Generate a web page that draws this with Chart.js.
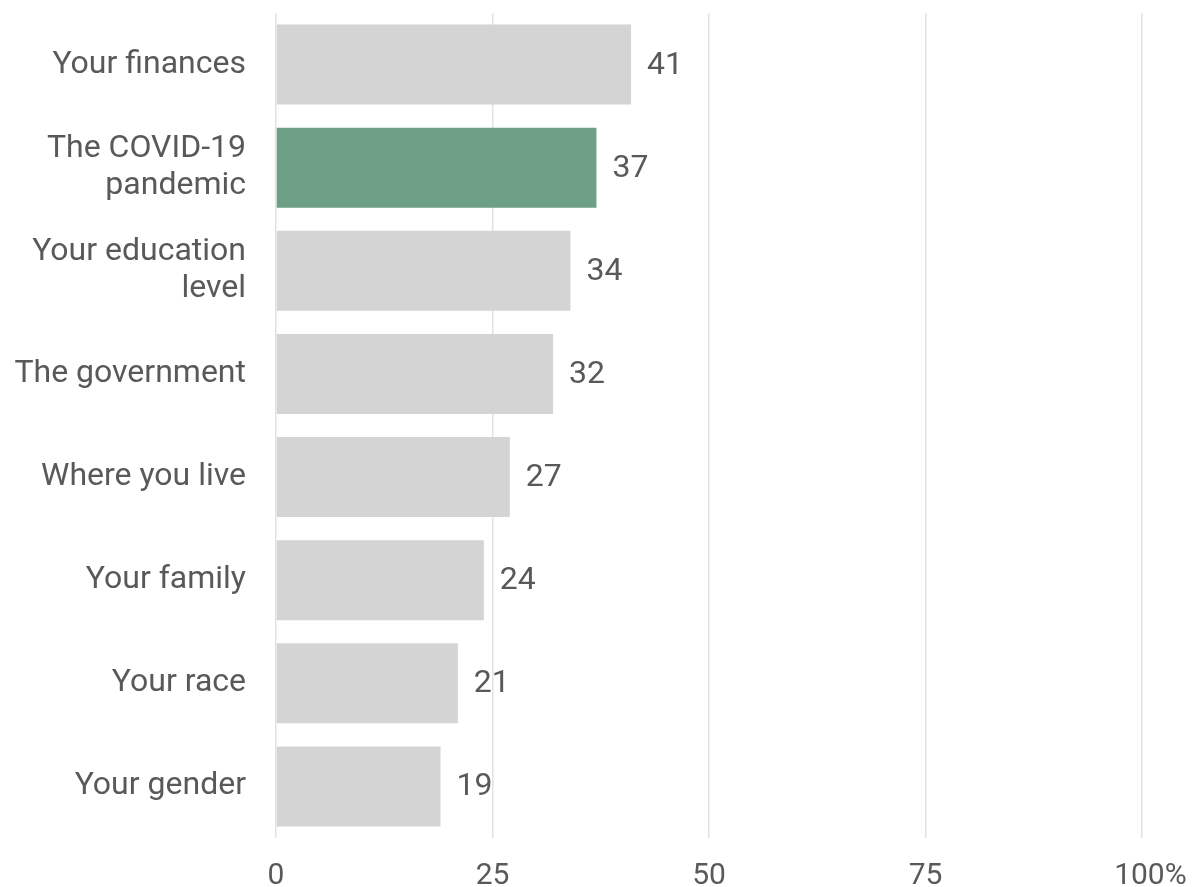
<!DOCTYPE html>
<html>
<head>
<meta charset="utf-8">
<script src="https://cdn.jsdelivr.net/npm/chart.js@4.4.0/dist/chart.umd.min.js"></script>
<style>
    html, body { margin: 0; padding: 0; background: #ffffff; }
    #wrap { width: 1193px; height: 887px; position: relative; }
</style>
</head>
<body>
<div id="wrap"><canvas id="barChart"></canvas></div>
<script>
// Datos del gráfico
const categories = [
    'Your finances',
    ['The COVID-19', 'pandemic'],
    ['Your education', 'level'],
    'The government',
    'Where you live',
    'Your family',
    'Your race',
    'Your gender'
];
const values = [41, 37, 34, 32, 27, 24, 21, 19];
const highlightIndex = 1;
const xTicks = [0, 25, 50, 75, 100];

// Colores
const greyBar = '#d4d4d4';
const greenBar = '#6d9f86';
const textColor = '#595959';
const gridColor = '#e2e2e2';

const barColors = values.map((v, i) => i === highlightIndex ? greenBar : greyBar);

// Etiquetas de valor al final de cada barra
const valueLabels = {
    id: 'valueLabels',
    afterDatasetsDraw(chart) {
        const ctx = chart.ctx;
        const meta = chart.getDatasetMeta(0);
        ctx.save();
        ctx.font = '32px Roboto';
        ctx.fillStyle = textColor;
        ctx.textAlign = 'left';
        ctx.textBaseline = 'middle';
        meta.data.forEach((bar, i) => {
            ctx.fillText(String(values[i]), bar.x + 16, bar.y + 1);
        });
        ctx.restore();
    }
};

new Chart(document.getElementById('barChart'), {
    type: 'bar',
    data: {
        labels: categories,
        datasets: [{
            data: values,
            backgroundColor: barColors,
            borderWidth: 0,
            barPercentage: 0.775,
            categoryPercentage: 1
        }]
    },
    options: {
        indexAxis: 'y',
        responsive: true,
        maintainAspectRatio: false,
        animation: false,
        layout: { padding: { top: 13, right: 51, bottom: 0, left: 0 } },
        plugins: {
            legend: { display: false },
            tooltip: { enabled: false }
        },
        scales: {
            x: {
                min: 0,
                max: 100,
                afterBuildTicks(scale) {
                    scale.ticks = xTicks.map(v => ({ value: v }));
                },
                afterFit(scale) {
                    scale.height = 49;
                    scale.paddingLeft = 0;
                    scale.paddingRight = 0;
                },
                grid: { color: gridColor, lineWidth: 1.5, drawTicks: false },
                border: { display: false },
                ticks: {
                    padding: 20,
                    color: textColor,
                    font: { family: 'Roboto', size: 30 },
                    callback: v => v === 100 ? '\u2007100%' : String(v)
                }
            },
            y: {
                afterFit(scale) {
                    scale.width = 276;
                    scale.paddingTop = 0;
                    scale.paddingBottom = 0;
                },
                grid: { display: false, drawTicks: false },
                border: { display: false },
                ticks: {
                    padding: 30,
                    color: textColor,
                    font: { family: 'Roboto', size: 32, lineHeight: 1.16 }
                }
            }
        }
    },
    plugins: [valueLabels]
});
</script>
</body>
</html>
